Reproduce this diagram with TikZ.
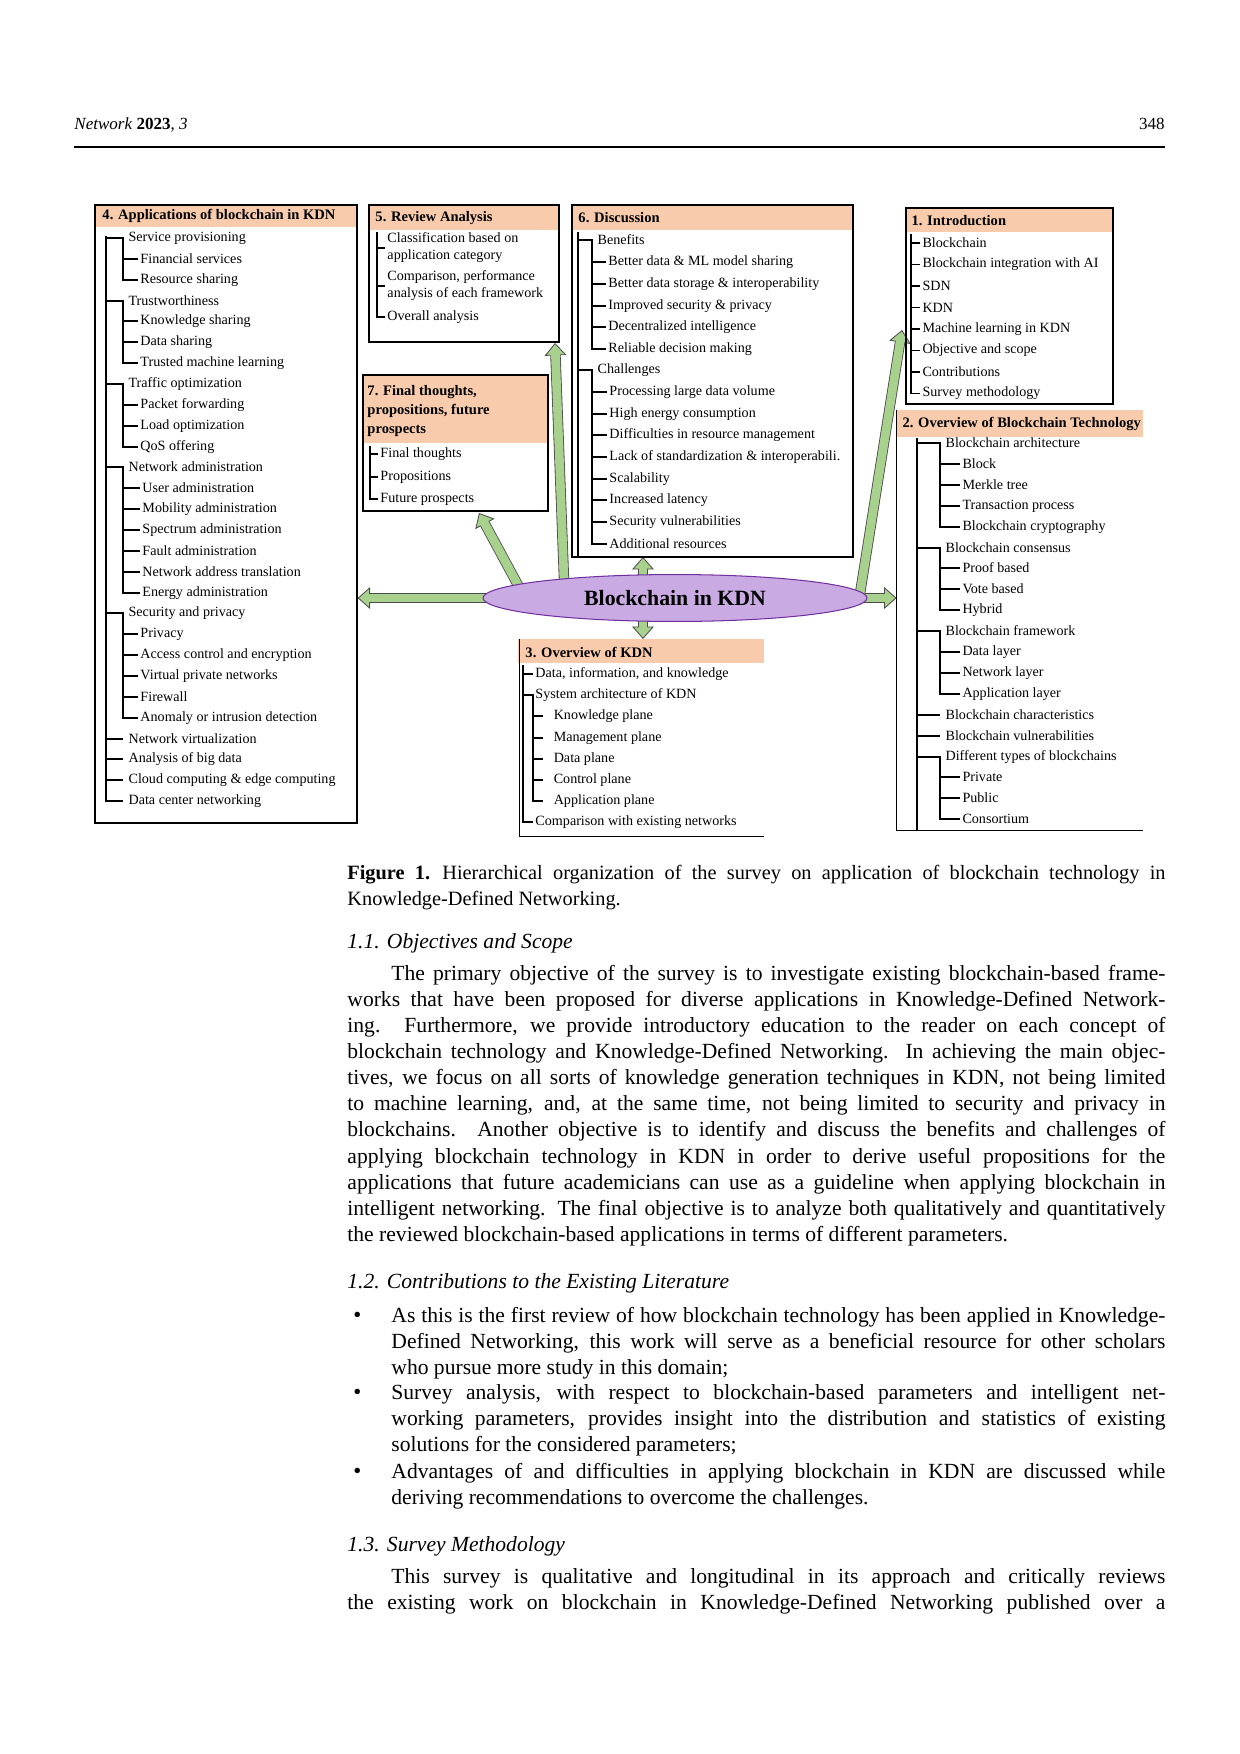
\documentclass[tikz,border=0pt]{standalone}
\usepackage{fontspec}
\setmainfont{Liberation Serif}
\usepackage{xcolor}
\usepackage{tikz}
\usetikzlibrary{shapes.geometric,arrows.meta,fit,backgrounds}
\definecolor{peach}{RGB}{248,203,173}
\definecolor{leafgreen}{RGB}{169,209,142}
\definecolor{lilac}{RGB}{201,170,226}
\definecolor{plum}{RGB}{112,48,160}
\tikzset{
    panel/.style={draw, line width=0.6pt, inner sep=0pt},
    ghost/.style={inner sep=0pt},
    hdr/.style={fill=peach, inner sep=0pt},
    boxtitle/.style={anchor=west, inner sep=1pt, font=\fontsize{7}{9.2}\selectfont\bfseries},
    item/.style={anchor=west, inner xsep=1pt, inner ysep=0.5pt, font=\fontsize{6.8}{8.2}\selectfont},
    grp/.style={item, inner xsep=2.5pt},
    gap/.style={item, inner xsep=5pt},
    twig/.style={line width=0.7pt},
    hub/.style={ellipse, draw=plum, line width=0.5pt, fill=lilac, minimum width=185pt, minimum height=22.6pt, inner sep=0pt, font=\fontsize{10.5}{12}\selectfont\bfseries},
    blk/.style={line width=5pt, draw=black!70, shorten <=-4pt, -{Triangle[length=6pt, width=10.5pt, fill=leafgreen, line width=0.4pt]}},
    blkfill/.style={line width=4.2pt, draw=leafgreen, shorten <=-4pt, shorten >=5.2pt},
    runhead/.style={anchor=base west, inner sep=0pt, font=\fontsize{8.2}{10}\selectfont},
    subhead/.style={anchor=base west, inner sep=0pt, font=\fontsize{10.4}{12.6}\selectfont\itshape},
    para/.style={anchor=base west, inner sep=0pt, text width=394.2pt, align=justify, font=\fontsize{10.4}{12.6}\selectfont},
    bpara/.style={para, text width=373pt},
    capt/.style={para, font=\fontsize{9.8}{12.6}\selectfont},
    bulletmark/.style={anchor=base west, inner sep=0pt, font=\fontsize{11}{12.6}\selectfont}
}
\newcommand{\bigarrow}[2]{\draw[blk] (#1) -- (#2); \draw[blkfill] (#1) -- (#2);}
\tolerance=10000
\hbadness=10000

\begin{document}
\begin{tikzpicture}[x=0.48186pt, y=-0.48186pt]
    \useasboundingbox (0,0) rectangle (1240,1754);

    % running head
    \node[runhead] (jn) at (74,129) {\textit{Network} \textbf{2023}, \textit{3}};
    \node[runhead, anchor=base east] (pg) at (1165,129) {348};
    \coordinate (rl) at (74,147);
    \coordinate (rr) at (1165,147);
    \draw[line width=0.5pt] (rl) -- (rr);

    % header fills
    \node[hdr, fit={(95,205) (357,227)}] (H4) {};
    \node[hdr, fit={(369,205) (559,230)}] (H5) {};
    \node[hdr, fit={(363,375) (548,443)}] (H7) {};
    \node[hdr, fit={(572,205) (853,230)}] (H6) {};
    \node[hdr, fit={(906,208) (1113,232)}] (H1) {};
    \node[hdr, fit={(897,410) (1143,437)}] (H2) {};
    \node[hdr, fit={(518,639) (764,663)}] (H3) {};

    % panels
    \node[panel, fit={(95,205) (357,823)}] (P4) {};
    \node[panel, fit={(369,205) (559,342)}] (P5) {};
    \node[panel, fit={(363,375) (548,511)}] (P7) {};
    \node[panel, fit={(572,205) (853,557)}] (P6) {};
    \node[panel, fit={(906,208) (1113,404)}] (P1) {};
    \node[ghost, fit={(897,410) (1143,830)}] (P2) {};
    \node[ghost, fit={(520,639) (764,836)}] (P3) {};
    \draw[line width=0.6pt] (P2.north west) -- (P2.south west) -- (P2.south east);
    \draw[line width=0.6pt] (P3.north west) -- (P3.south west) -- (P3.south east);

    % titles
    \node[boxtitle] (T4) at (100,216) {4. Applications of blockchain in KDN};
    \node[boxtitle] (T5) at (373,218) {5. Review Analysis};
    \node[boxtitle, align=left] (T7) at (365,411) {7. Final thoughts,\\propositions, future\\prospects};
    \node[boxtitle] (T6) at (576,218) {6. Discussion};
    \node[boxtitle] (T1) at (909,221) {1. Introduction};
    \node[boxtitle] (T2) at (900,424) {2. Overview of Blockchain Technology};
    \node[boxtitle] (T3) at (523,652) {3. Overview of KDN};

    % 4. applications
    \coordinate (k4) at (106,236);
    \node[grp] (A1) at (123,238) {Service provisioning};
    \node[item] (A2) at (138,259) {Financial services};
    \node[item] (A3) at (138,280) {Resource sharing};
    \node[grp] (A4) at (123,301) {Trustworthiness};
    \node[item] (A5) at (138,321) {Knowledge sharing};
    \node[item] (A6) at (138,342) {Data sharing};
    \node[item] (A7) at (138,363) {Trusted machine learning};
    \node[grp] (A8) at (123,384) {Traffic optimization};
    \node[item] (A9) at (138,405) {Packet forwarding};
    \node[item] (A10) at (138,426) {Load optimization};
    \node[item] (A11) at (138,447) {QoS offering};
    \node[grp] (A12) at (123,467) {Network administration};
    \node[item] (A13) at (140,488) {User administration};
    \node[item] (A14) at (140,509) {Mobility administration};
    \node[item] (A15) at (140,530) {Spectrum administration};
    \node[item] (A16) at (140,551) {Fault administration};
    \node[item] (A17) at (140,572) {Network address translation};
    \node[item] (A18) at (140,593) {Energy administration};
    \node[grp] (A19) at (123,613) {Security and privacy};
    \node[item] (A20) at (138,634) {Privacy};
    \node[item] (A21) at (138,655) {Access control and encryption};
    \node[item] (A22) at (138,676) {Virtual private networks};
    \node[item] (A23) at (138,697) {Firewall};
    \node[item] (A24) at (138,718) {Anomaly or intrusion detection};
    \node[grp] (A25) at (123,739) {Network virtualization};
    \node[grp] (A26) at (123,759) {Analysis of big data};
    \node[grp] (A27) at (123,780) {Cloud computing \& edge computing};
    \node[grp] (A28) at (123,801) {Data center networking};

    \draw[twig] (k4) -- (k4 |- A28.west) -- (A28.west);
    \draw[twig] (k4 |- A1.west) -| (A1.west |- A3.west) -- (A3.west);
    \draw[twig] (A2.west) -- (A2.west -| A1.west);
    \draw[twig] (k4 |- A4.west) -| (A4.west |- A7.west) -- (A7.west);
    \draw[twig] (A5.west) -- (A5.west -| A4.west) (A6.west) -- (A6.west -| A4.west);
    \draw[twig] (k4 |- A8.west) -| (A8.west |- A11.west) -- (A11.west);
    \draw[twig] (A9.west) -- (A9.west -| A8.west) (A10.west) -- (A10.west -| A8.west);
    \draw[twig] (k4 |- A12.west) -| (A12.west |- A18.west) -- (A18.west);
    \draw[twig] (A13.west) -- (A13.west -| A12.west) (A14.west) -- (A14.west -| A12.west);
    \draw[twig] (A15.west) -- (A15.west -| A12.west) (A16.west) -- (A16.west -| A12.west);
    \draw[twig] (A17.west) -- (A17.west -| A12.west);
    \draw[twig] (k4 |- A19.west) -| (A19.west |- A24.west) -- (A24.west);
    \draw[twig] (A20.west) -- (A20.west -| A19.west) (A21.west) -- (A21.west -| A19.west);
    \draw[twig] (A22.west) -- (A22.west -| A19.west) (A23.west) -- (A23.west -| A19.west);
    \draw[twig] (A25.west) -- (A25.west -| k4) (A26.west) -- (A26.west -| k4);
    \draw[twig] (A27.west) -- (A27.west -| k4);

    % 5. review analysis
    \coordinate (k5) at (377,232);
    \node[item, align=left] (R1) at (385,248) {Classification based on\\application category};
    \node[item, align=left] (R2) at (385,286) {Comparison, performance\\analysis of each framework};
    \node[item] (R3) at (385,317) {Overall analysis};
    \draw[twig] (k5) -- (k5 |- R3.west) -- (R3.west);
    \draw[twig] (R1.west) -- (R1.west -| k5) (R2.west) -- (R2.west -| k5);

    % 7. final thoughts
    \coordinate (k7) at (370,446);
    \node[item] (F1) at (378,454) {Final thoughts};
    \node[item] (F2) at (378,477) {Propositions};
    \node[item] (F3) at (378,499) {Future prospects};
    \draw[twig] (k7) -- (k7 |- F3.west) -- (F3.west);
    \draw[twig] (F1.west) -- (F1.west -| k7) (F2.west) -- (F2.west -| k7);

    % 6. discussion
    \coordinate (k6) at (578,232);
    \node[grp] (D1) at (592,240) {Benefits};
    \node[item] (D2) at (606,262) {Better data \& ML model sharing};
    \node[item] (D3) at (606,284) {Better data storage \& interoperability};
    \node[item] (D4) at (606,306) {Improved security \& privacy};
    \node[item] (D5) at (606,327) {Decentralized intelligence};
    \node[item] (D6) at (606,349) {Reliable decision making};
    \node[grp] (D7) at (592,370) {Challenges};
    \node[item] (D8) at (607,392) {Processing large data volume};
    \node[item] (D9) at (607,414) {High energy consumption};
    \node[item] (D10) at (607,435) {Difficulties in resource management};
    \node[item] (D11) at (607,457) {Lack of standardization \& interoperabili.};
    \node[item] (D12) at (607,479) {Scalability};
    \node[item] (D13) at (607,500) {Increased latency};
    \node[item] (D14) at (607,522) {Security vulnerabilities};
    \node[item] (D15) at (607,544) {Additional resources};
    \draw[twig] (k6) -- (k6 |- P6.south);
    \draw[twig] (k6 |- D1.west) -| (D1.west |- D6.west) -- (D6.west);
    \draw[twig] (D2.west) -- (D2.west -| D1.west) (D3.west) -- (D3.west -| D1.west);
    \draw[twig] (D4.west) -- (D4.west -| D1.west) (D5.west) -- (D5.west -| D1.west);
    \draw[twig] (k6 |- D7.west) -| (D7.west |- D15.west) -- (D15.west);
    \draw[twig] (D8.west) -- (D8.west -| D7.west) (D9.west) -- (D9.west -| D7.west);
    \draw[twig] (D10.west) -- (D10.west -| D7.west) (D11.west) -- (D11.west -| D7.west);
    \draw[twig] (D12.west) -- (D12.west -| D7.west) (D13.west) -- (D13.west -| D7.west);
    \draw[twig] (D14.west) -- (D14.west -| D7.west);

    % 1. introduction
    \coordinate (k1) at (911,234);
    \node[item] (I1) at (920,243) {Blockchain};
    \node[item] (I2) at (920,264.5) {Blockchain integration with AI};
    \node[item] (I3) at (920,286) {SDN};
    \node[item] (I4) at (920,307.5) {KDN};
    \node[item] (I5) at (920,329) {Machine learning in KDN};
    \node[item] (I6) at (920,350.5) {Objective and scope};
    \node[item] (I7) at (920,372) {Contributions};
    \node[item] (I8) at (920,393.5) {Survey methodology};
    \draw[twig] (k1) -- (k1 |- I8.west) -- (I8.west);
    \draw[twig] (I1.west) -- (I1.west -| k1) (I2.west) -- (I2.west -| k1);
    \draw[twig] (I3.west) -- (I3.west -| k1) (I4.west) -- (I4.west -| k1);
    \draw[twig] (I5.west) -- (I5.west -| k1) (I6.west) -- (I6.west -| k1);
    \draw[twig] (I7.west) -- (I7.west -| k1);

    % 2. blockchain technology
    \coordinate (k2) at (917,438);
    \node[grp] (O1) at (940,443) {Blockchain architecture};
    \node[item] (O2) at (960,464) {Block};
    \node[item] (O3) at (960,485) {Merkle tree};
    \node[item] (O4) at (960,506) {Transaction process};
    \node[item] (O5) at (960,527) {Blockchain cryptography};
    \node[grp] (O6) at (940,548) {Blockchain consensus};
    \node[item] (O7) at (960,568) {Proof based};
    \node[item] (O8) at (960,589) {Vote based};
    \node[item] (O9) at (960,610) {Hybrid};
    \node[grp] (O10) at (940,631) {Blockchain framework};
    \node[item] (O11) at (960,652) {Data layer};
    \node[item] (O12) at (960,673) {Network layer};
    \node[item] (O13) at (960,694) {Application layer};
    \node[grp] (O14) at (940,715) {Blockchain characteristics};
    \node[grp] (O15) at (940,736) {Blockchain vulnerabilities};
    \node[grp] (O16) at (940,757) {Different types of blockchains};
    \node[item] (O17) at (960,777) {Private};
    \node[item] (O18) at (960,798) {Public};
    \node[item] (O19) at (960,819) {Consortium};
    \draw[twig] (k2) -- (k2 |- P2.south);
    \draw[twig] (k2 |- O1.west) -| (O1.west |- O5.west) -- (O5.west);
    \draw[twig] (O2.west) -- (O2.west -| O1.west) (O3.west) -- (O3.west -| O1.west);
    \draw[twig] (O4.west) -- (O4.west -| O1.west);
    \draw[twig] (k2 |- O6.west) -| (O6.west |- O9.west) -- (O9.west);
    \draw[twig] (O7.west) -- (O7.west -| O6.west) (O8.west) -- (O8.west -| O6.west);
    \draw[twig] (k2 |- O10.west) -| (O10.west |- O13.west) -- (O13.west);
    \draw[twig] (O11.west) -- (O11.west -| O10.west) (O12.west) -- (O12.west -| O10.west);
    \draw[twig] (O14.west) -- (O14.west -| k2) (O15.west) -- (O15.west -| k2);
    \draw[twig] (k2 |- O16.west) -| (O16.west |- O19.west) -- (O19.west);
    \draw[twig] (O17.west) -- (O17.west -| O16.west) (O18.west) -- (O18.west -| O16.west);

    % 3. overview of KDN
    \coordinate (k3) at (523,665);
    \node[item] (K1) at (533,674) {Data, information, and knowledge};
    \node[item] (K2) at (533,695) {System architecture of KDN};
    \node[gap] (K3) at (543,716) {Knowledge plane};
    \node[gap] (K4) at (543,738) {Management plane};
    \node[gap] (K5) at (543,759) {Data plane};
    \node[gap] (K6) at (543,780) {Control plane};
    \node[gap] (K7) at (543,801) {Application plane};
    \node[item] (K8) at (533,822) {Comparison with existing networks};
    \draw[twig] (k3) -- (k3 |- K8.west) -- (K8.west);
    \draw[twig] (K1.west) -- (K1.west -| k3);
    \draw[twig] (k3 |- K2.west) -- (K2.west) -- (K2.west |- K7.west) -- (K7.west);
    \draw[twig] (K3.west) -- (K3.west -| K2.west) (K4.west) -- (K4.west -| K2.west);
    \draw[twig] (K5.west) -- (K5.west -| K2.west) (K6.west) -- (K6.west -| K2.west);

    % centre and block arrows
    \node[hub] (kdn) at (675,598) {Blockchain in KDN};
    \coordinate (g6) at (643,557);
    \coordinate (g3) at (643,639);
    \coordinate (g7) at (479,513);
    \coordinate (g5) at (555,343);
    \coordinate (g1) at (902,330);
    \begin{scope}[on background layer]
        \bigarrow{kdn.west}{kdn.west -| P4.east}
        \bigarrow{kdn.east}{kdn.east -| P2.west}
        \bigarrow{kdn.north -| g6}{g6}
        \bigarrow{kdn.south -| g3}{g3}
        \bigarrow{kdn.175}{g7}
        \bigarrow{kdn.170}{g5}
        \bigarrow{kdn.2}{g1}
    \end{scope}

    % caption and text
    \node[capt] (cap) at (347,879) {\textbf{Figure 1.}\hspace{0.6em}Hierarchical organization of the survey on application of blockchain technology in\linebreak Knowledge-Defined Networking.};

    \node[subhead] (s11) at (347,948) {1.1. Objectives and Scope};
    \node[para] (p11) at (347,980) {\hspace*{21.2pt}The primary objective of the survey is to investigate existing blockchain-based frame-\linebreak works that have been proposed for diverse applications in Knowledge-Defined Network-\linebreak ing. Furthermore, we provide introductory education to the reader on each concept of\linebreak blockchain technology and Knowledge-Defined Networking. In achieving the main objec-\linebreak tives, we focus on all sorts of knowledge generation techniques in KDN, not being limited\linebreak to machine learning, and, at the same time, not being limited to security and privacy in\linebreak blockchains. Another objective is to identify and discuss the benefits and challenges of\linebreak applying blockchain technology in KDN in order to derive useful propositions for the\linebreak applications that future academicians can use as a guideline when applying blockchain in\linebreak intelligent networking. The final objective is to analyze both qualitatively and quantitatively\linebreak the reviewed blockchain-based applications in terms of different parameters.};

    \node[subhead] (s12) at (347,1288) {1.2. Contributions to the Existing Literature};
    \node[bulletmark] (m1) at (353,1322) {\textbullet};
    \node[bpara] (b1) at (391,1322) {As this is the first review of how blockchain technology has been applied in Knowledge-\linebreak Defined Networking, this work will serve as a beneficial resource for other scholars\linebreak who pursue more study in this domain;};
    \node[bulletmark] (m2) at (353,1399) {\textbullet};
    \node[bpara] (b2) at (391,1399) {Survey analysis, with respect to blockchain-based parameters and intelligent net-\linebreak working parameters, provides insight into the distribution and statistics of existing\linebreak solutions for the considered parameters;};
    \node[bulletmark] (m3) at (353,1478) {\textbullet};
    \node[bpara] (b3) at (391,1478) {Advantages of and difficulties in applying blockchain in KDN are discussed while\linebreak deriving recommendations to overcome the challenges.};

    \node[subhead] (s13) at (347,1551) {1.3. Survey Methodology};
    \node[para] (p13) at (347,1583) {\hspace*{21.2pt}This survey is qualitative and longitudinal in its approach and critically reviews\linebreak the existing work on blockchain in Knowledge-Defined Networking published over a\linebreak\mbox{}};
\end{tikzpicture}
\end{document}
